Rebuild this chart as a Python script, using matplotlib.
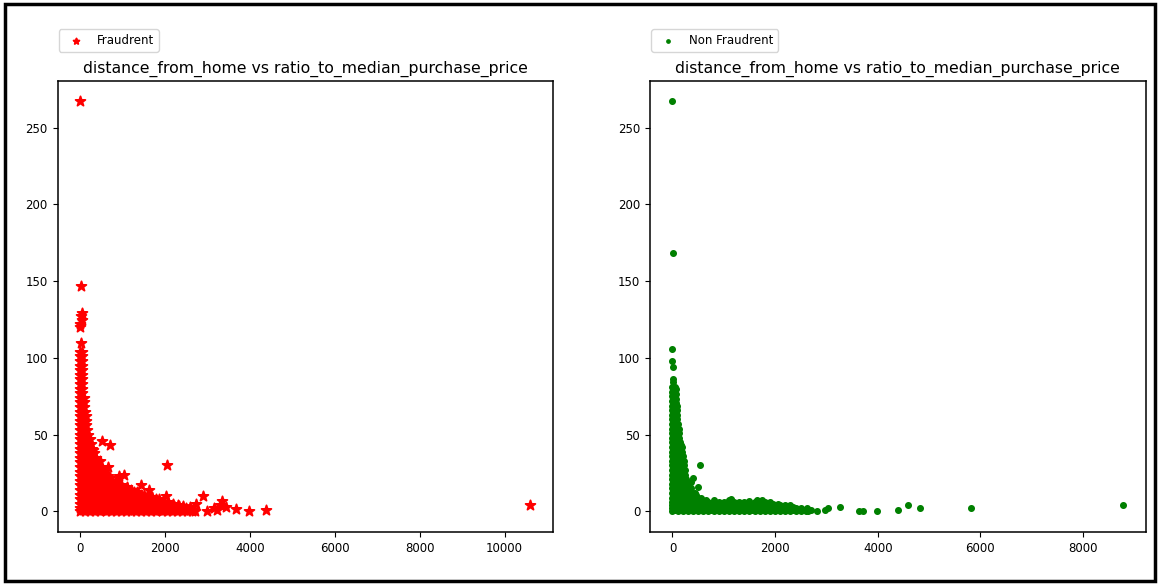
import matplotlib
matplotlib.use("Agg")
import matplotlib.pyplot as plt
from matplotlib.patches import Rectangle

TITLE = "distance_from_home vs ratio_to_median_purchase_price"

# fraud transactions: dense band, one row per ratio level with the distances seen at that level
fraud_band_ratio = [104, 101, 98, 95, 92, 89, 86, 83, 80, 77, 74, 71, 68, 65, 62, 59, 56, 53, 50,
                    47, 44, 41, 38, 35, 32, 29, 26, 23, 20, 17, 14, 11, 8, 5, 2, 0,
                    45.5, 39.5, 33.5, 27.5, 24.5, 21.5, 18.5, 15.5, 12.5, 9.5, 6.5, 3.5, 1]
fraud_band_dist = [
    [0, 40], [0, 40], [0, 40], [0, 50], [0, 50], [0, 50], [0, 50], [0, 50], [0, 50], [0, 50],
    [0, 60, 100], [0, 60, 100], [0, 60, 100], [0, 70, 120], [0, 70, 130], [0, 70, 130],
    [0, 80, 150], [0, 80, 170], [0, 90, 180],
    [0, 100, 200, 230], [0, 100, 200, 260], [0, 100, 200, 290],
    [0, 120, 240, 330], [0, 120, 240, 370],
    [0, 120, 240, 360, 420], [0, 120, 240, 360, 480],
    [0, 120, 240, 360, 480, 560],
    [0, 120, 240, 360, 480, 600, 650],
    [0, 120, 240, 360, 480, 600, 720, 760],
    [0, 120, 240, 360, 480, 600, 720, 840, 960],
    [0, 120, 240, 360, 480, 600, 720, 840, 960, 1080, 1200],
    [0, 120, 240, 360, 480, 600, 720, 840, 960, 1080, 1200, 1320, 1440, 1500],
    [0, 120, 240, 360, 480, 600, 720, 840, 960, 1080, 1200, 1320, 1440, 1560, 1680, 1850],
    [0, 120, 240, 360, 480, 600, 720, 840, 960, 1080, 1200, 1320, 1440, 1560, 1680, 1800,
     1920, 2040, 2200],
    [0, 120, 240, 360, 480, 600, 720, 840, 960, 1080, 1200, 1320, 1440, 1560, 1680, 1800,
     1920, 2040, 2160, 2280, 2400, 2500],
    [0, 120, 240, 360, 480, 600, 720, 840, 960, 1080, 1200, 1320, 1440, 1560, 1680, 1800,
     1920, 2040, 2160, 2280, 2400, 2520, 2640, 2700],
    [60, 160],
    [60, 180, 260],
    [60, 180, 300, 380],
    [60, 180, 300, 420, 500],
    [60, 180, 300, 420, 540, 590],
    [60, 180, 300, 420, 540, 660, 700],
    [60, 180, 300, 420, 540, 660, 780, 860],
    [60, 180, 300, 420, 540, 660, 780, 900, 1020, 1100],
    [60, 180, 300, 420, 540, 660, 780, 900, 1020, 1140, 1260, 1350],
    [60, 180, 300, 420, 540, 660, 780, 900, 1020, 1140, 1260, 1380, 1500, 1620, 1700],
    [60, 180, 300, 420, 540, 660, 780, 900, 1020, 1140, 1260, 1380, 1500, 1620, 1740, 1860,
     1980, 2080],
    [60, 180, 300, 420, 540, 660, 780, 900, 1020, 1140, 1260, 1380, 1500, 1620, 1740, 1860,
     1980, 2100, 2220, 2340, 2420],
    [60, 180, 300, 420, 540, 660, 780, 900, 1020, 1140, 1260, 1380, 1500, 1620, 1740, 1860,
     1980, 2100, 2220, 2340, 2460, 2580, 2660],
]
# fraud transactions: scattered points away from the band
fraud_dist = [0, 30, 40, 20, 50, 0, 10, 30, 520, 710, 2050, 660, 920, 1040, 1100, 1440, 1630,
              2030, 2900, 2740, 3350, 3300, 3000, 3230, 3680, 3970, 4390, 10600, 310, 470, 850,
              1250, 1800, 2300, 2600, 3450, 3150]
fraud_ratio = [267, 147, 129, 127, 125, 122, 120, 110, 46, 43, 30, 29, 23, 23.5, 16, 17, 14,
               10, 10, 5, 7, 4, 0, 1, 1.5, 0, 1, 4, 40, 33, 20,
               12, 8, 4, 3, 3, 2]

# non fraud transactions: dense band
legit_band_ratio = [81, 78, 75, 72, 69, 66, 63, 60, 57, 54, 51, 48, 45, 42, 39, 36, 33, 30, 27,
                    24, 21, 18, 15, 12, 9, 6.5, 4, 2, 0,
                    79.5, 76.5, 73.5, 70.5, 67.5, 64.5, 61.5, 58.5, 55.5, 52.5, 49.5, 46.5,
                    43.5, 40.5, 37.5, 34.5, 31.5, 28.5, 25.5, 22.5, 19.5, 16.5, 13.5, 10.5,
                    7.5, 5, 3, 1]
legit_band_dist = [
    [0, 40], [0, 40], [0, 40], [0, 50], [0, 50, 90], [0, 50, 90], [0, 50, 90], [0, 50, 90],
    [0, 60, 110], [0, 60, 120], [0, 60, 120], [0, 60, 120], [0, 70, 140],
    [0, 70, 140, 180], [0, 70, 140, 190], [0, 70, 140, 200],
    [0, 80, 160, 220], [0, 80, 160, 220], [0, 80, 160, 240],
    [0, 90, 180, 250], [0, 90, 180, 270], [0, 90, 180, 270, 300],
    [0, 100, 200, 300, 360],
    [0, 100, 200, 300, 400, 440],
    [0, 100, 200, 300, 400, 500, 560],
    [0, 100, 200, 300, 400, 500, 600, 700, 800, 900, 1000, 1100, 1200, 1300, 1400, 1500,
     1600, 1700, 1800, 1900],
    [0, 100, 200, 300, 400, 500, 600, 700, 800, 900, 1000, 1100, 1200, 1300, 1400, 1500,
     1600, 1700, 1800, 1900, 2000, 2100, 2200, 2300],
    [0, 100, 200, 300, 400, 500, 600, 700, 800, 900, 1000, 1100, 1200, 1300, 1400, 1500,
     1600, 1700, 1800, 1900, 2000, 2100, 2200, 2300, 2400, 2500],
    [0, 100, 200, 300, 400, 500, 600, 700, 800, 900, 1000, 1100, 1200, 1300, 1400, 1500,
     1600, 1700, 1800, 1900, 2000, 2100, 2200, 2300, 2400, 2500, 2600, 2650],
    [20, 60], [20, 60], [20, 60], [20, 70], [20, 70], [20, 70], [20, 70], [20, 70],
    [30, 90], [30, 90], [30, 90], [30, 100],
    [30, 100, 170], [30, 100, 170], [30, 100, 170], [30, 100, 180],
    [40, 120, 200], [40, 120, 200], [40, 120, 210], [40, 120, 220],
    [50, 140, 230], [50, 140, 250],
    [50, 150, 250, 350],
    [50, 150, 250, 350, 450],
    [50, 150, 250, 350, 450, 550, 650, 1100, 1150, 1650, 1750],
    [50, 150, 250, 350, 450, 550, 650, 750, 850, 950, 1050, 1150, 1250, 1350, 1450, 1550,
     1650, 1750, 1850, 1950, 2050],
    [50, 150, 250, 350, 450, 550, 650, 750, 850, 950, 1050, 1150, 1250, 1350, 1450, 1550,
     1650, 1750, 1850, 1950, 2050, 2150, 2250, 2350],
    [50, 150, 250, 350, 450, 550, 650, 750, 850, 950, 1050, 1150, 1250, 1350, 1450, 1550,
     1650, 1750, 1850, 1950, 2050, 2150, 2250, 2350, 2450, 2550],
]
# non fraud transactions: scattered points away from the band
legit_dist = [0, 20, 0, 0, 10, 10, 20, 540, 400, 360, 500, 200, 480, 1140, 800, 350, 1500,
              1700, 2820, 2980, 3040, 3270, 3630, 3720, 3990, 4400, 4600, 4820, 5810, 8780,
              2620, 2700]
legit_ratio = [267, 168, 106, 98, 94, 86, 84, 30, 22, 19, 16, 33, 8, 8, 7.5, 7.5, 7,
               7, 0, 1, 2, 3, 0, 0, 0, 1, 4, 2.5, 2, 4,
               2.5, 1]


def expand(band_ratio, band_dist, dist, ratio):
    xs, ys = list(dist), list(ratio)
    for r, row in zip(band_ratio, band_dist):
        xs += row
        ys += [r] * len(row)
    return xs, ys


fx, fy = expand(fraud_band_ratio, fraud_band_dist, fraud_dist, fraud_ratio)
lx, ly = expand(legit_band_ratio, legit_band_dist, legit_dist, legit_ratio)

plt.rcParams['font.family'] = ['DejaVu Sans']
fig = plt.figure(figsize=(11.6, 5.85), dpi=100)

ax1 = fig.add_axes([0.0496, 0.0906, 0.4267, 0.771])
ax2 = fig.add_axes([0.5603, 0.0906, 0.4272, 0.771])

ax1.scatter(fx, fy, marker='*', color='red', s=55, linewidths=1.3, label='Fraudrent')
ax2.scatter(lx, ly, marker='.', color='green', s=65, label='Non Fraudrent')

for ax in (ax1, ax2):
    ax.set_title(TITLE, fontsize=11.3, pad=6)
    ax.tick_params(labelsize=8.5)
    ax.set_yticks([0, 50, 100, 150, 200, 250])
    for sp in ax.spines.values():
        sp.set_linewidth(1.1)
    ax.legend(loc='lower left', bbox_to_anchor=(0.003, 1.065), borderaxespad=0,
              fontsize=8.5, markerscale=0.6)

# black frame round the whole figure
fig.patches.append(Rectangle((0.004, 0.007), 0.992, 0.986, transform=fig.transFigure,
                             fill=False, edgecolor='black', linewidth=2.5))

fig.savefig("out.png", dpi=100)
